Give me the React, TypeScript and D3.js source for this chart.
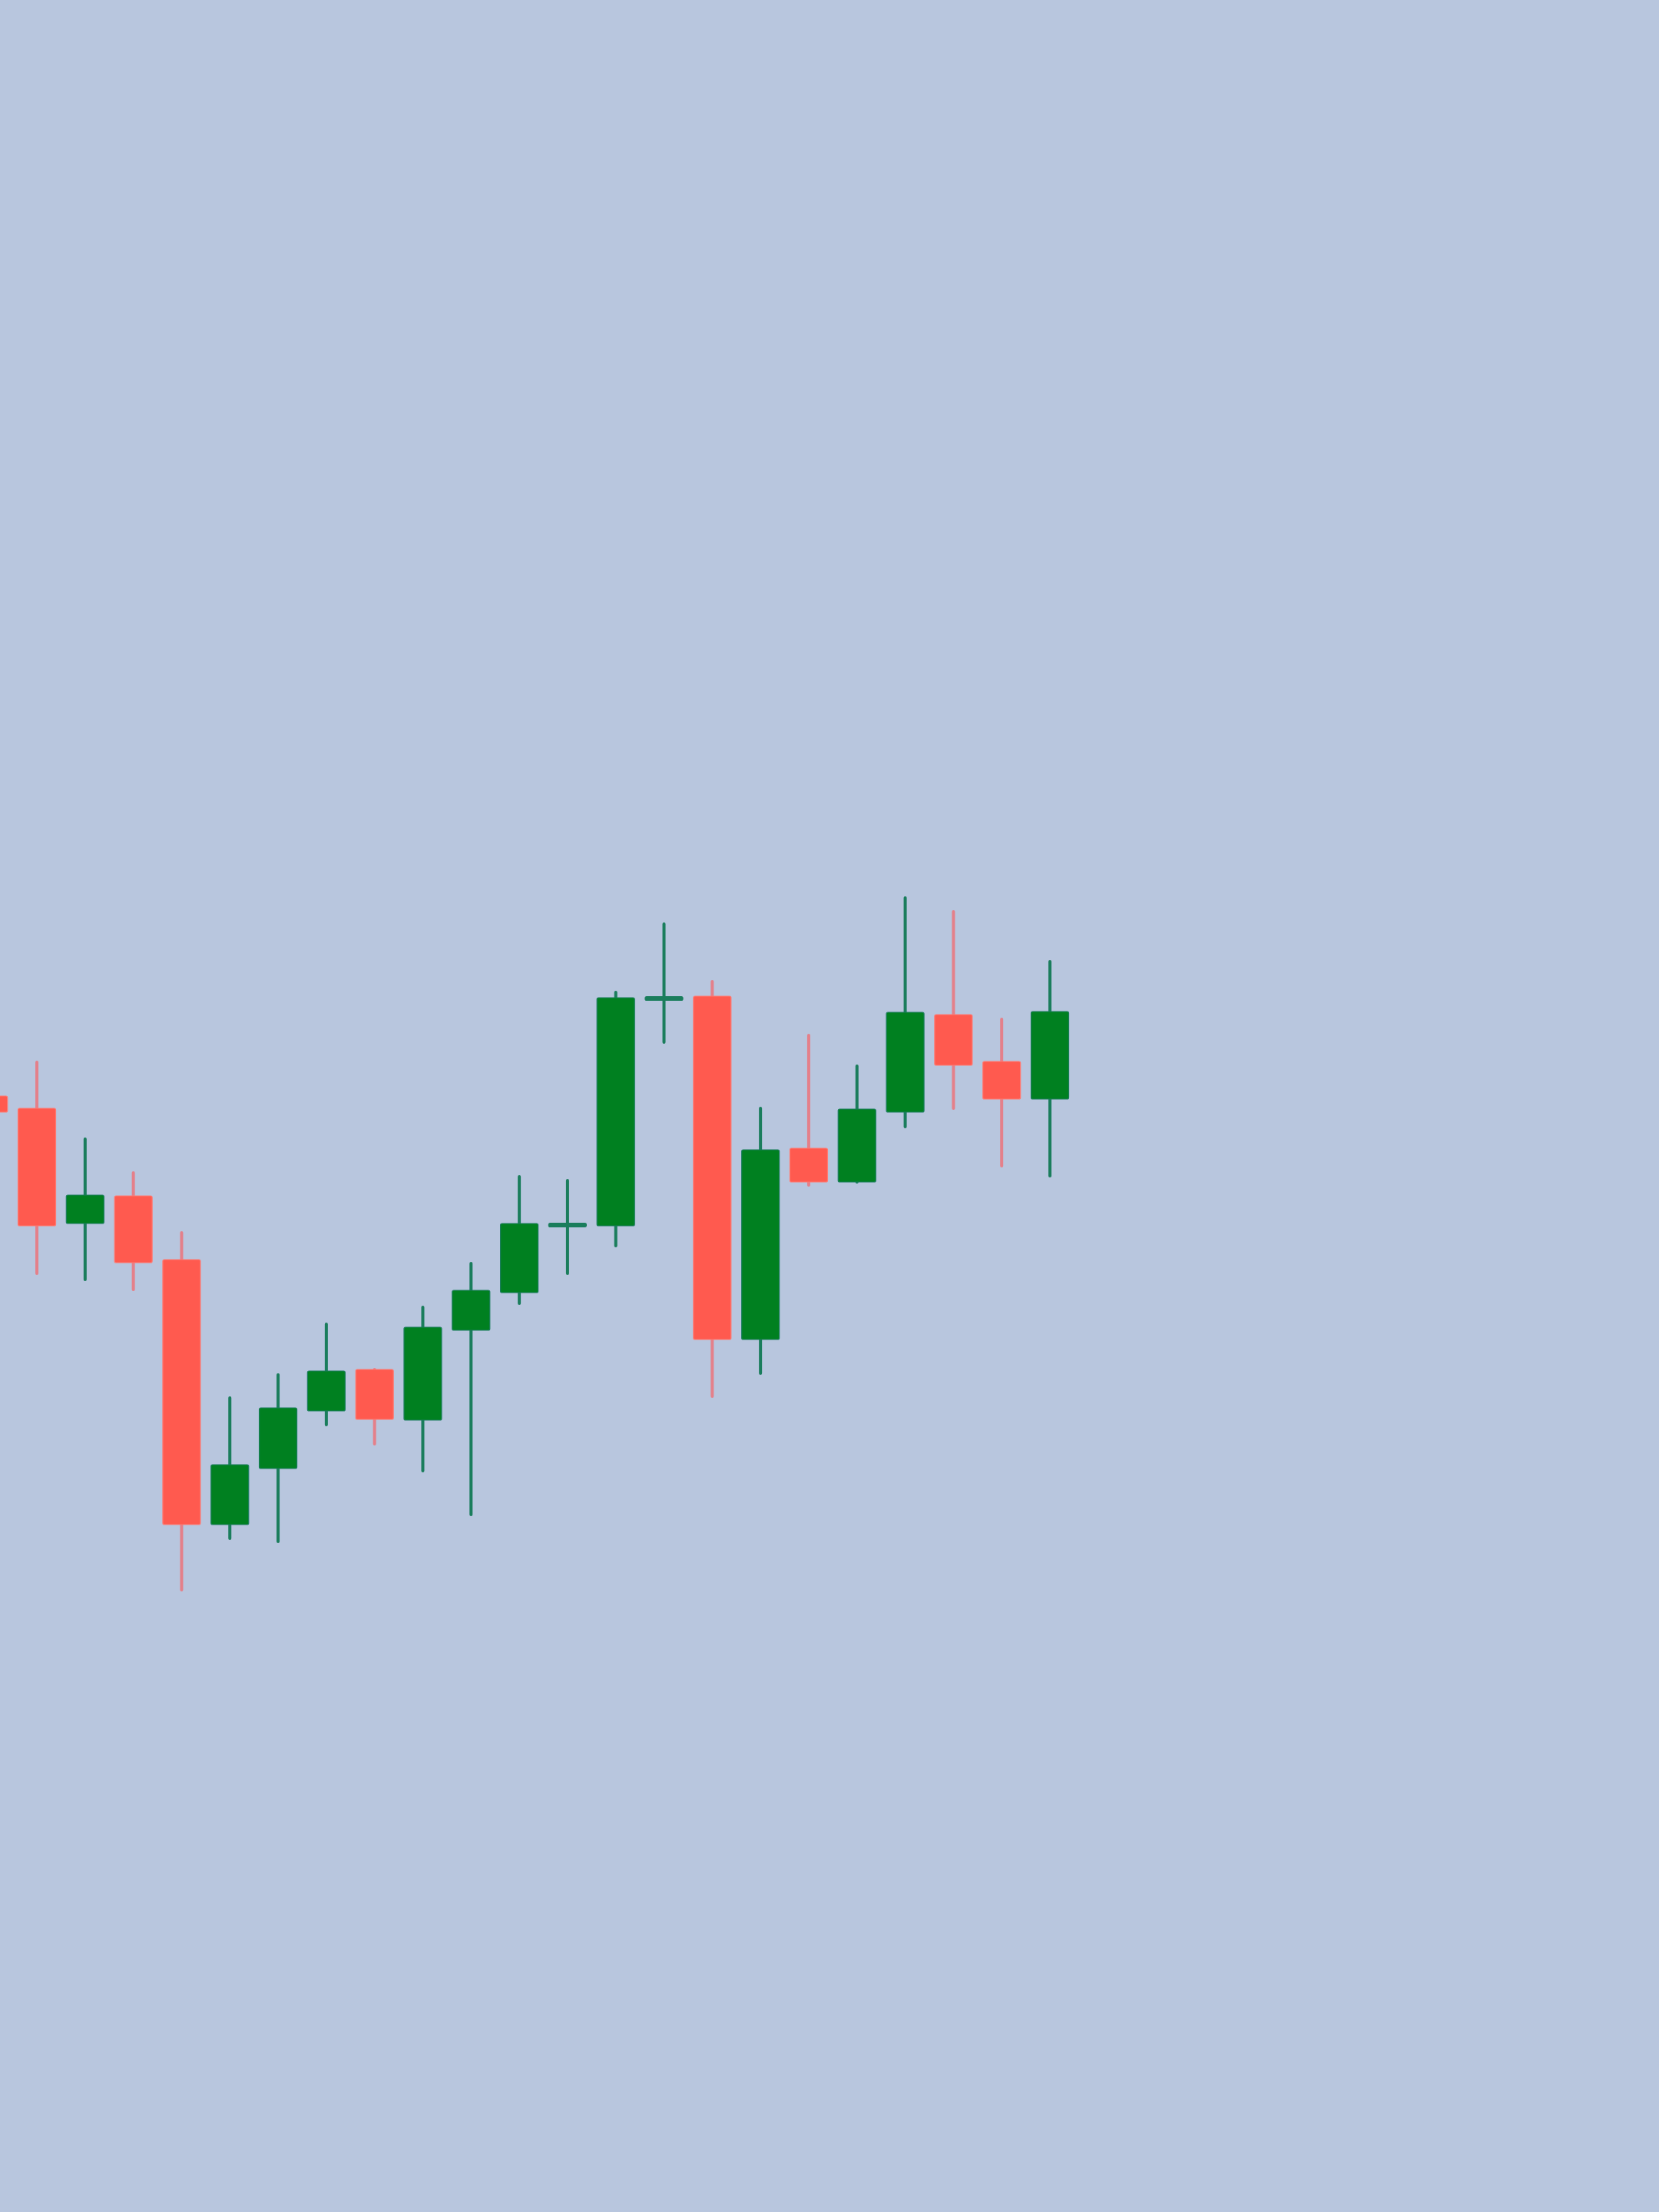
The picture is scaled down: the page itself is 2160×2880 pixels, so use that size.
import React from "react";
import * as d3 from "d3";

// Candle index labels (no axis shown in the reference)
const candles = ["c0","c1","c2","c3","c4","c5","c6","c7","c8","c9","c10","c11","c12","c13","c14","c15","c16","c17","c18","c19","c20","c21","c22"];
// Notional price values (no axis in reference)
const opens  = [165.3,163.7,148.7,152.3,144.0,109.5,116.8,124.3,129.7,123.1,134.8,139.7,148.3,148.4,177.8,178.3,133.6,158.5,154.1,163.2,175.9,169.8,164.9];
const highs  = [165.3,169.7,159.7,155.3,147.5,126.0,129.0,135.6,129.7,137.8,143.5,154.8,154.3,178.8,187.7,180.2,163.7,173.2,169.2,191.1,189.3,175.3,182.8];
const lows   = [163.2,142.2,141.4,140.1,101.0,107.7,107.3,122.5,120.0,116.5,110.8,138.3,142.2,145.8,172.3,126.2,129.2,153.7,154.1,161.3,163.7,156.2,154.9];
const closes = [163.2,148.4,152.4,143.6,109.5,117.3,124.7,129.5,123.2,135.2,140.0,148.7,148.7,178.1,178.2,133.6,158.3,154.1,163.6,176.2,169.3,164.9,176.3];

const W = 2160;
const H = 2880;

export default function App() {
  const x = d3.scaleBand<string>().domain(candles).range([-46.2, 1398.4]).padding(0);
  const y = d3.scaleLinear().domain([100, 200]).range([2080, 1080]);
  const bodyW = x.bandwidth() * 0.78;

  const upBody = "#008020";
  const upWick = "#1a7d5c";
  const downBody = "#ff5a4f";
  const downWick = "#e4808a";

  return (
    <svg
      width={W}
      height={H}
      style={{ position: "fixed", top: 0, left: 0, display: "block" }}
    >
      <rect x={0} y={0} width={W} height={H} fill="#b8c6de" />
      {candles.map((c, i) => {
        const o = opens[i], h = highs[i], l = lows[i], cl = closes[i];
        const up = cl >= o;
        const cx = (x(c) as number) + x.bandwidth() / 2;
        const top = y(Math.max(o, cl));
        const bot = y(Math.min(o, cl));
        const doji = Math.abs(bot - top) < 6;
        const bh = Math.max(bot - top, 5);
        const wickColor = up ? upWick : downWick;
        return (
          <g key={c}>
            <line
              x1={cx}
              x2={cx}
              y1={y(h)}
              y2={y(l)}
              stroke={wickColor}
              strokeWidth={4}
              strokeLinecap="round"
            />
            <rect
              x={cx - bodyW / 2}
              y={doji ? (top + bot) / 2 - bh / 2 : top}
              width={bodyW}
              height={bh}
              rx={2}
              fill={doji ? wickColor : up ? upBody : downBody}
              stroke={up ? upWick : "#ff7a72"}
              strokeWidth={1.2}
            />
          </g>
        );
      })}
    </svg>
  );
}
